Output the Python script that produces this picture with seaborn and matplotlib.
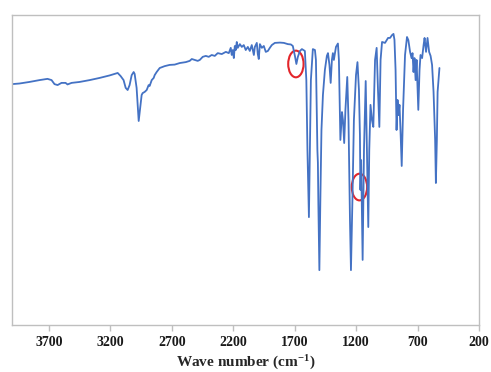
import matplotlib
matplotlib.use("Agg")
import matplotlib.pyplot as plt
from matplotlib.patches import Ellipse
import seaborn as sns
import pandas as pd

wavenumber = [4000, 3939, 3858, 3776, 3711, 3678, 3654, 3629, 3597, 3564, 3548, 3515, 3450, 3368,
              3287, 3206, 3157, 3140, 3116, 3092, 3075, 3059, 3043, 3026, 3010, 3002, 2986, 2969,
              2961, 2945, 2937, 2920, 2904, 2888, 2880, 2863, 2847, 2839, 2823, 2798, 2758, 2717,
              2676, 2635, 2586, 2554, 2537, 2513, 2489, 2472, 2448, 2423, 2399, 2375, 2350, 2326,
              2293, 2260, 2236, 2220, 2212, 2203, 2195, 2187, 2179, 2171, 2163, 2146, 2130, 2114,
              2098, 2081, 2065, 2049, 2032, 2024, 2008, 2000, 1992, 1983, 1967, 1951, 1935, 1918,
              1902, 1886, 1861, 1820, 1788, 1755, 1731, 1715, 1698, 1686, 1674, 1657, 1641, 1617,
              1605, 1596, 1584, 1576, 1568, 1552, 1535, 1527, 1515, 1511, 1507, 1499, 1491, 1482,
              1470, 1454, 1438, 1429, 1417, 1407, 1397, 1389, 1381, 1364, 1348, 1340, 1328, 1315,
              1307, 1297, 1287, 1272, 1262, 1250, 1242, 1230, 1218, 1201, 1189, 1177, 1169, 1165,
              1159, 1147, 1136, 1122, 1112, 1101, 1093, 1083, 1071, 1060, 1046, 1033, 1022, 1011,
              1001, 989, 965, 940, 924, 908, 896, 888, 879, 871, 863, 855, 847, 839, 829, 818,
              802, 786, 775, 761, 749, 741, 733, 725, 716, 708, 694, 684, 676, 663, 651, 643, 631,
              619, 606, 594, 582, 570, 557, 551, 543, 537, 522]
transmittance = [77.7, 77.9, 78.4, 79.0, 79.4, 79.0, 77.7, 77.4, 78.1, 78.1, 77.6, 78.1, 78.4, 79.0,
                 79.7, 80.5, 81.1, 81.3, 80.3, 79.0, 76.5, 75.8, 77.4, 80.6, 81.6, 81.0, 76.5, 65.8,
                 68.7, 74.2, 74.8, 75.2, 75.8, 77.4, 77.1, 79.0, 79.7, 80.6, 81.6, 82.9, 83.5, 83.9,
                 84.0, 84.5, 84.8, 85.2, 85.8, 85.5, 85.2, 85.5, 86.5, 86.8, 86.5, 87.1, 86.8, 87.7,
                 87.4, 88.1, 87.7, 89.4, 87.1, 88.7, 86.1, 90.0, 88.7, 91.3, 89.4, 90.6, 89.7, 90.3,
                 88.7, 89.7, 88.4, 90.3, 87.1, 89.7, 91.0, 87.4, 85.8, 90.6, 89.4, 90.0, 88.1, 88.4,
                 89.4, 90.3, 91.0, 91.1, 91.0, 90.6, 90.5, 90.0, 86.8, 84.2, 86.5, 88.4, 89.0, 88.4,
                 79.0, 56.4, 34.8, 56.4, 79.0, 89.0, 88.7, 85.5, 56.4, 52.3, 38.7, 17.7, 40.3, 62.9,
                 74.2, 82.3, 86.8, 87.7, 83.9, 78.1, 85.5, 87.7, 85.5, 89.7, 90.8, 85.5, 59.7, 68.7,
                 66.1, 58.7, 69.4, 80.0, 66.1, 33.9, 17.7, 40.3, 66.1, 80.6, 84.8, 75.8, 61.3, 43.6,
                 53.2, 21.0, 56.5, 78.7, 56.5, 31.6, 56.5, 71.0, 66.1, 63.9, 85.5, 89.4, 75.8, 63.9,
                 85.5, 91.3, 91.0, 92.6, 92.6, 93.5, 93.9, 92.0, 82.3, 62.9, 72.6, 67.7, 71.0, 62.9,
                 51.3, 69.4, 87.1, 92.9, 91.9, 88.1, 86.1, 87.7, 81.6, 86.1, 79.0, 85.5, 69.4, 82.3,
                 87.1, 86.1, 90.3, 92.6, 88.1, 92.6, 88.1, 86.8, 83.9, 75.2, 59.7, 45.8, 59.7, 75.2,
                 82.9]
tick_values = [3700, 3200, 2700, 2200, 1700, 1200, 700, 200]
circled_wn = [1690, 1173]
circled_t = [84.2, 44.5]

df = pd.DataFrame({"wn": wavenumber, "T": transmittance})

sns.set_theme(style="white")
plt.rcParams["font.family"] = ["Liberation Serif", "DejaVu Serif"]
plt.rcParams["mathtext.fontset"] = "custom"
plt.rcParams["mathtext.rm"] = "Liberation Serif:bold"
plt.rcParams["mathtext.bf"] = "Liberation Serif:bold"
plt.rcParams["mathtext.it"] = "Liberation Serif:bold"

fig = plt.figure(figsize=(4.91, 3.72), dpi=100)
ax = fig.add_axes([0.0244, 0.1263, 0.9512, 0.8334])
sns.lineplot(data=df, x="wn", y="T", ax=ax, sort=False, estimator=None,
             color="#4472C4", linewidth=1.3)

for cx, cy in zip(circled_wn, circled_t):
    ax.add_patch(Ellipse((cx, cy), width=125, height=8.6, fill=False,
                         edgecolor="#E3262B", linewidth=1.5))

ax.set_xlim(4000, 200)
ax.set_ylim(0, 100)
ax.set_xticks(tick_values)
ax.set_xticklabels([str(v) for v in tick_values], fontweight="bold", fontsize=10)
ax.set_yticks([])
ax.set_ylabel("")
ax.set_xlabel(r"Wave number (cm$^{-1}$)", fontweight="bold", fontsize=11)
ax.xaxis.set_label_coords(0.5, -0.093)
for s in ax.spines.values():
    s.set_color("#BFBFBF")
    s.set_linewidth(1.0)
ax.tick_params(axis="x", direction="out", length=4, width=1, color="#BFBFBF",
               pad=4, bottom=True, colors="#BFBFBF", labelcolor="#1a1a1a")

fig.savefig("out.png", dpi=100)
